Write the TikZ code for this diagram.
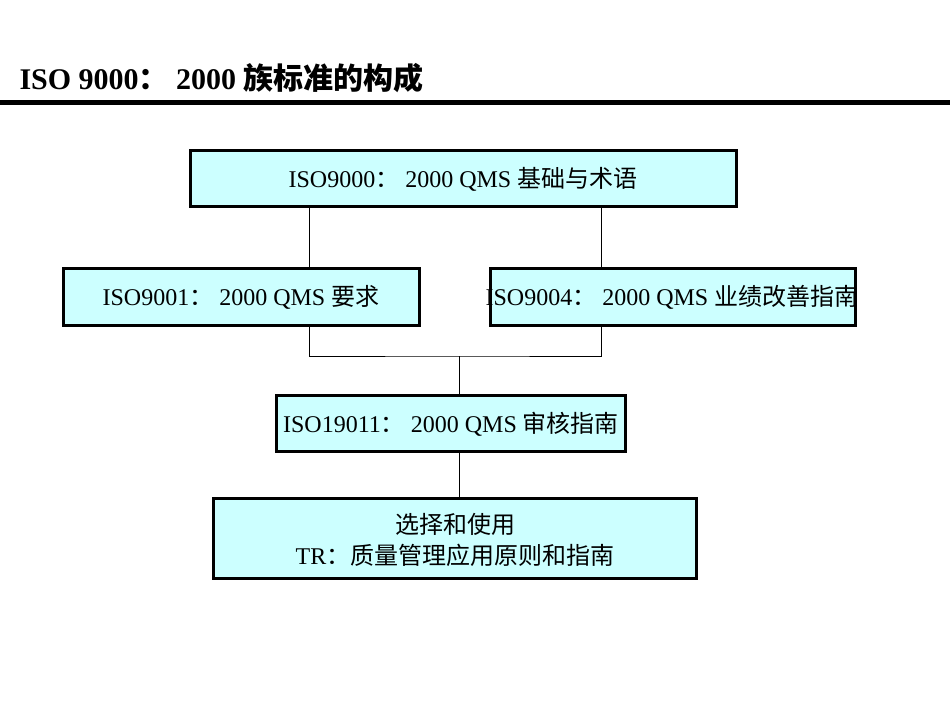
\documentclass[tikz,border=0pt]{standalone}
\usepackage{fontspec}
\setmainfont{Liberation Serif}
\newfontfamily\cjk{Noto Sans CJK SC}
\definecolor{boxfill}{HTML}{CCFFFF}
\newcommand{\cc}{{\cjk ：}}
\begin{document}
\begin{tikzpicture}[x=1pt,y=-1pt,
 box/.style={draw=black,line width=3pt,fill=boxfill,inner sep=0pt},
 lbl/.style={font=\fontsize{24}{28}\selectfont,align=center},
 ln/.style={line width=0.8pt}]
\useasboundingbox (0,0) rectangle (950,713);
\node[anchor=base west,font=\bfseries\fontsize{30}{32}\selectfont] (title) at (16,89) {ISO 9000\cc{} 2000 {\cjk 族标准的构成}};
\draw[line width=5pt] (0,102) -- (950,102);
\draw[box] (190,150) rectangle (736,206); \node[lbl] (a) at (463,179) {ISO9000\cc{} 2000 QMS {\cjk 基础与术语}};
\draw[box] (63,268) rectangle (419,325); \node[lbl] (b) at (241,297) {ISO9001\cc{} 2000 QMS {\cjk 要求}};
\draw[box] (490,268) rectangle (855,325); \node[lbl] (c) at (672,297) {ISO9004\cc{} 2000 QMS {\cjk 业绩改善指南}};
\draw[box] (276,395) rectangle (625,451); \node[lbl] (d) at (451,424) {ISO19011\cc{} 2000 QMS {\cjk 审核指南}};
\draw[box] (213,498) rectangle (696,578); \node[lbl] (e) at (455,540) {{\cjk 选择和使用}\\[3pt]TR\cc{\cjk 质量管理应用原则和指南}};
\coordinate (a1) at (309,207); \coordinate (b1) at (309,267);
\coordinate (a2) at (601,207); \coordinate (c1) at (601,267);
\coordinate (b2) at (309,326); \coordinate (c2) at (601,326);
\coordinate (m) at (459,356); \coordinate (d1) at (459,394);
\coordinate (d2) at (459,452); \coordinate (e1) at (459,497);
\draw[ln] (a1) -- (b1); \draw[ln] (a2) -- (c1);
\draw[ln] (b2) |- (m) -| (c2); \draw[ln] (m) -- (d1); \draw[ln] (d2) -- (e1);
\end{tikzpicture}
\end{document}
